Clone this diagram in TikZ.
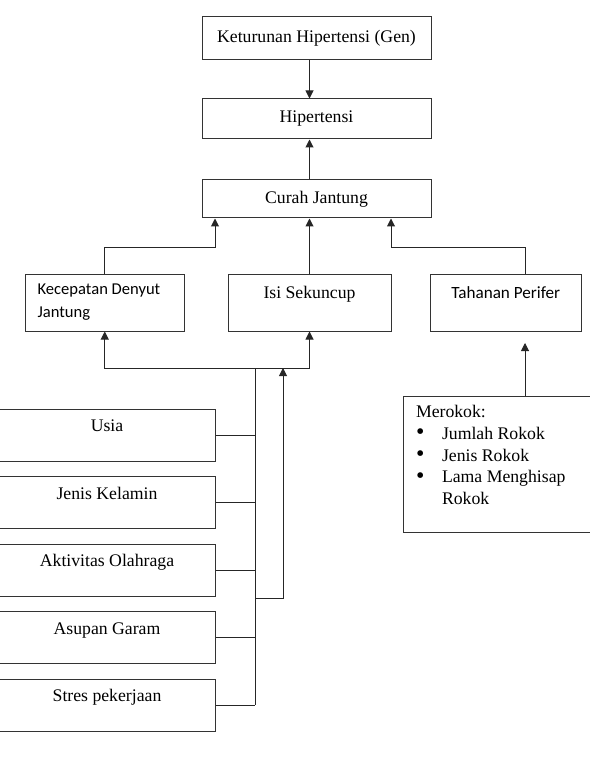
\documentclass[tikz,border=0pt]{standalone}
\usepackage{fontspec}
\setmainfont{Liberation Serif}
\newfontfamily\calibri{Carlito}
\usetikzlibrary{arrows.meta}
\newcommand{\butir}{\makebox[18.2pt][l]{\raisebox{-0.4pt}{\scalebox{1.35}{\textbullet}}}}

\begin{document}
\begin{tikzpicture}[x=0.7pt, y=-0.7pt,
		kotak/.style={draw=black!80, line width=0.7pt, inner sep=0pt, font=\fontsize{12.4}{15}\selectfont},
		atas/.style={kotak, text height=16.8pt, text depth=23.1pt},
		faktor/.style={kotak, minimum width=151.2pt, text height=16pt, text depth=20.4pt},
		garis/.style={draw=black!85, line width=0.7pt},
		panah/.style={garis, -{Triangle[width=5.6pt,length=5.6pt]}}]
			%%%%% START %%%%%
			\useasboundingbox (0,0) rectangle (589,759);
			
			\node[kotak, minimum width=160.3pt, minimum height=30.1pt, text height=10.5pt, text depth=4.5pt] (gen) at (316.5,38.5) {Keturunan Hipertensi (Gen)};
			\node[kotak, minimum width=160.3pt, minimum height=28pt] (hip) at (316.5,119) {Hipertensi};
			\node[kotak, minimum width=160.3pt, minimum height=26.6pt] (curah) at (316.5,199) {Curah Jantung};
			
			\node[kotak, font=\calibri\fontsize{11.6}{16.1}\selectfont] (kdj) at (104.75,302.5) {\parbox[c][39.9pt][c]{110.95pt}{\raggedright\leftskip=8.5pt
					Kecepatan Denyut\\Jantung}};
			\node[atas, minimum width=114.1pt] (isi) at (309.5,302.5) {Isi Sekuncup};
			\node[atas, minimum width=106.05pt, font=\calibri\fontsize{12}{15}\selectfont] (tp) at (505.75,302.5) {Tahanan Perifer};
			
			\node[faktor] (usia) at (107,435) {Usia};
			\node[faktor] (jk) at (107,502.5) {Jenis Kelamin};
			\node[faktor] (ao) at (107,570) {Aktivitas Olahraga};
			\node[faktor] (ag) at (107,637.5) {Asupan Garam};
			\node[faktor] (sp) at (107,705) {Stres pekerjaan};
			
			\node[kotak, font=\fontsize{12.4}{15.2}\selectfont] (rokok) at (497.5,464) {\parbox[c][95.2pt][t]{132.3pt}{\raggedright\leftskip=9.1pt
					\rule{0pt}{15.1pt}Merokok:\\
					\butir Jumlah Rokok\\
					\butir Jenis Rokok\\
					\butir Lama Menghisap\\
					\hspace*{18.2pt}Rokok}};
			
			% ke atas
			\coordinate (kiri) at (215,247);
			\coordinate (kanan) at (391,247);
			\coordinate (tpx) at (525,343);
			\draw[panah] (gen.south -| isi.north) -- (hip.north -| isi.north);
			\draw[panah] (curah.north -| isi.north) -- (hip.south -| isi.north);
			\draw[panah] (isi.north) -- (isi.north |- curah.south);
			\draw[panah] (kdj.north) |- (kiri) -- (kiri |- curah.south);
			\draw[panah] (tp.north -| tpx) |- (kanan) -- (kanan |- curah.south);
			\draw[panah] (rokok.north -| tpx) -- (tpx);
			
			% faktor
			\coordinate (bus) at (255,368);
			\coordinate (naik) at (283,598);
			\draw[panah] (bus) -| (kdj.south);
			\draw[panah] (bus) -| (isi.south);
			\draw[garis] (bus) -- (bus |- sp.east);
			\draw[garis] (usia.east) -- (usia.east -| bus);
			\draw[garis] (jk.east) -- (jk.east -| bus);
			\draw[garis] (ao.east) -- (ao.east -| bus);
			\draw[garis] (ag.east) -- (ag.east -| bus);
			\draw[garis] (sp.east) -- (sp.east -| bus);
			\draw[panah] (bus |- naik) -| (naik |- bus);
			
			%%%%% END %%%%%
\end{tikzpicture}
\end{document}
